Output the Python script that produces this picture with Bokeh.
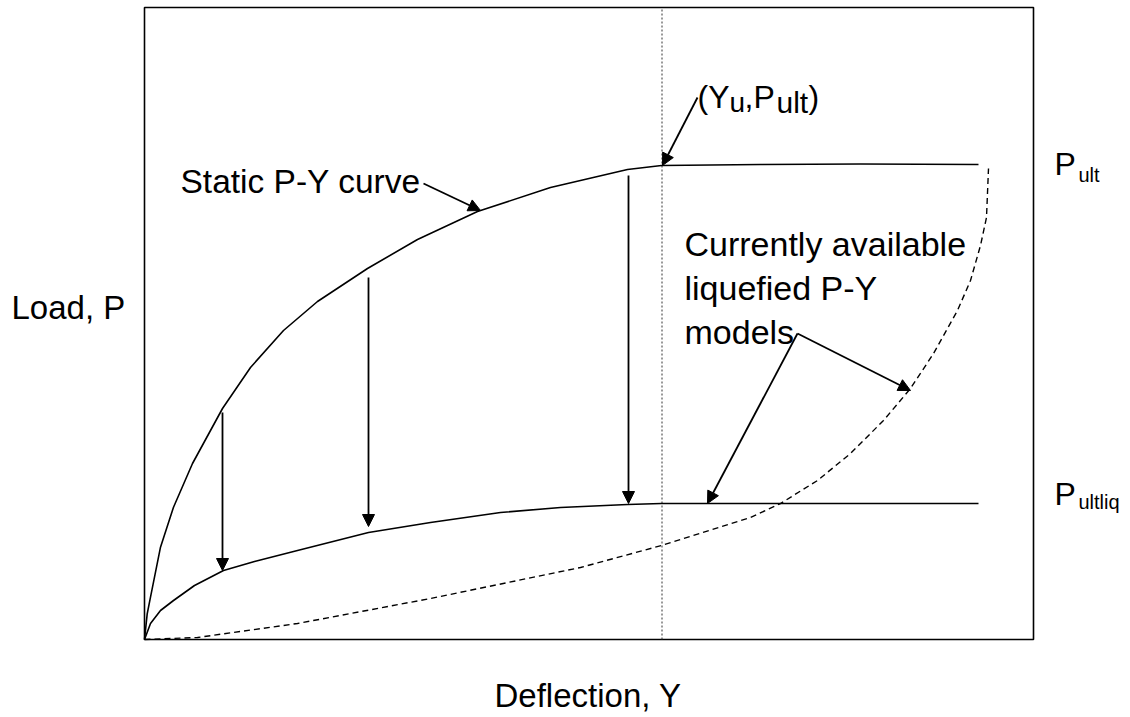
from bokeh.plotting import figure
from bokeh.models import Range1d, Label, Arrow, NormalHead, ColumnDataSource
from bokeh.embed import file_html
from bokeh.resources import INLINE

# ---- data (deflection / load in drawing units) ----
defl_axis_max = 889
load_axis_max = 632

static_defl = [0, 2.7, 6, 16, 29, 48, 78, 106, 139, 173, 223, 273, 333, 406, 483, 517, 616, 716, 834]
static_load = [0, 25.7, 42.3, 92.3, 132.3, 176, 231, 272, 309, 338, 371, 400, 428, 452, 470, 474, 475, 475.5, 475]

liq_defl = [0, 6, 16, 29, 50, 79, 110, 153, 224, 286, 356, 416, 483, 517, 834]
liq_load = [0, 16, 29, 39, 54, 69, 78, 89, 107, 117, 127, 132, 135, 136, 136]

model_defl = [0, 53, 153, 286, 436, 517, 606, 636, 673, 706, 739, 766, 789, 813, 826, 836, 842, 844]
model_load = [0, 2, 16, 41, 72, 94, 122, 136, 159, 186, 219, 251, 286, 329, 359, 394, 422, 471]

yu_defl = 517.5

arrow_x0 = [78, 224, 484, 553, 279, 653, 653]
arrow_y0 = [227, 362, 464, 542, 456, 306, 306]
arrow_x1 = [78, 224, 484, 518, 336, 563, 766]
arrow_y1 = [69, 113, 136, 474, 429, 136, 249]

FONT = "Liberation Sans"
DY = 12  # baseline correction for label placement

p = figure(width=1130, height=717,
           x_range=Range1d(-144, 986), y_range=Range1d(-78, 639),
           x_axis_location=None, y_axis_location=None,
           toolbar_location=None, output_backend="svg",
           min_border=0)
p.xgrid.visible = False
p.ygrid.visible = False
p.outline_line_color = None
p.background_fill_color = "white"
p.border_fill_color = "white"

# plot box
p.quad(left=[0], right=[defl_axis_max], bottom=[0], top=[load_axis_max],
       fill_color=None, line_color="black", line_width=1.6)

# dotted vertical line at Yu
p.segment(x0=[yu_defl], y0=[0], x1=[yu_defl], y1=[load_axis_max],
          line_color="#333333", line_width=1, line_dash="2 2")

# curves
p.line(static_defl, static_load, line_color="black", line_width=1.6, line_join="round")
p.line(liq_defl, liq_load, line_color="black", line_width=1.6, line_join="round")
p.line(model_defl, model_load, line_color="black", line_width=1.4, line_dash="6 4", line_join="round")

# arrows
src = ColumnDataSource(dict(x0=arrow_x0, y0=arrow_y0, x1=arrow_x1, y1=arrow_y1))
p.add_layout(Arrow(end=NormalHead(size=12, fill_color="black", line_color="black", line_width=1),
                   x_start="x0", y_start="y0", x_end="x1", y_end="y1",
                   source=src, line_color="black", line_width=1.8))


def lab(x, y, text, size="33px"):
    p.add_layout(Label(x=x, y=y + DY, text=text, text_font=FONT, text_font_size=size,
                       text_baseline="alphabetic", text_align="left", text_color="black"))


lab(36, 446, "Static P-Y curve", "33.5px")
lab(540, 384, "Currently available", "34px")
lab(540, 340, "liquefied P-Y", "34px")
lab(540, 296, "models", "34px")

# (Y_u, P_ult)
lab(553, 531, "(Y", "32px")
lab(585, 525, "u", "28px")
lab(600, 531, ",", "32px")
lab(609, 531, "P", "32px")
lab(632, 525, "ult", "30px")
lab(664, 531, ")", "32px")

# right side labels
lab(910, 464, "P", "32px")
lab(934, 453, "ult", "20px")
lab(910, 134, "P", "32px")
lab(934, 126, "ultliq", "20px")

# axis titles
lab(-133, 320, "Load, P")
lab(350, -68, "Deflection, Y")

open("out.html", "w").write(file_html(p, INLINE))
